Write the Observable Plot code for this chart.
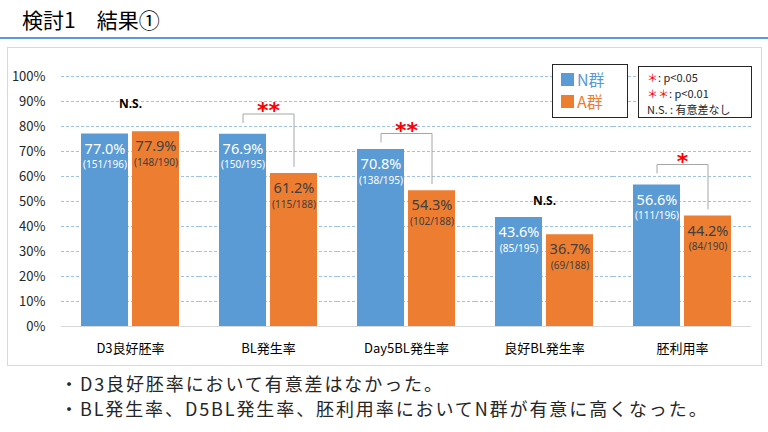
<!DOCTYPE html>
<html>
<head>
<meta charset="utf-8">
<script src="https://cdn.jsdelivr.net/npm/d3@7"></script>
<script src="https://cdn.jsdelivr.net/npm/@observablehq/plot@0.6"></script>
<style>
  html, body { margin: 0; padding: 0; background: #fff; }
  #page { position: relative; width: 768px; height: 432px; overflow: hidden; font-family: "Noto Sans CJK JP", "Noto Sans", sans-serif; color: #000; }
  #title { position: absolute; left: 22px; top: 6px; font-size: 21px; line-height: 26px; }
  #rule { position: absolute; left: 0; top: 37px; width: 768px; height: 2px; background: #5B9BD5; }
  #frame { position: absolute; left: 7px; top: 47px; width: 753px; height: 317px; border: 1px solid #D9D9D9; }
  #chart { position: absolute; left: 0; top: 40px; }
  .box { position: absolute; border: 1px solid #262626; background: #fff; box-sizing: border-box; }
  #leg1 { left: 552px; top: 64px; width: 76px; height: 54px; }
  #leg2 { left: 638px; top: 66px; width: 114px; height: 52px; }
  .item { position: absolute; left: 8px; font-size: 16px; line-height: 20px; display: flex; align-items: center; }
  .sw { display: inline-block; width: 13px; height: 13px; margin-right: 3px; }
  .sig { position: absolute; left: 8px; font-size: 11px; line-height: 16px; height: 16px; color: #262626; white-space: nowrap; }
  .red { color: #FF0000; }
  #notes { position: absolute; left: 60px; top: 371px; font-size: 18px; line-height: 25px; letter-spacing: 1.9px; color: #262626; white-space: nowrap; }
</style>
</head>
<body>
<div id="page">
  <div id="title">検討1　結果①</div>
  <div id="rule"></div>
  <div id="frame"></div>
  <div id="chart"></div>
  <div id="leg1" class="box"></div>
  <div id="leg2" class="box"></div>
  <div id="notes"></div>
</div>
<script>
// ---- data ----
const categories = ["D3良好胚率", "BL発生率", "Day5BL発生率", "良好BL発生率", "胚利用率"];
const groups = ["N", "A"];
const groupNames = ["N群", "A群"];
const nValues = [77.0, 76.9, 70.8, 43.6, 56.6];
const aValues = [77.9, 61.2, 54.3, 36.7, 44.2];
const nFractions = ["151/196", "150/195", "138/195", "85/195", "111/196"];
const aFractions = ["148/190", "115/188", "102/188", "69/188", "84/190"];
const significance = ["N.S.", "**", "**", "N.S.", "*"];
const sigLevel = [89, 85, 77.2, 50, 64.8];   // value (%) at which the annotation sits
const yTicks = [0, 10, 20, 30, 40, 50, 60, 70, 80, 90, 100];
const legendNotes = [["＊", ": p<0.05"], ["＊＊", ": p<0.01"], ["", "N.S. : 有意差なし"]];
const notes = ["・D3良好胚率において有意差はなかった。", "・BL発生率、D5BL発生率、胚利用率においてN群が有意に高くなった。"];

const blue = "#5B9BD5", orange = "#ED7D31";

const rows = [];
categories.forEach((c, i) => {
  rows.push({cat: c, group: "N", value: nValues[i], frac: nFractions[i]});
  rows.push({cat: c, group: "A", value: aValues[i], frac: aFractions[i]});
});

const brackets = [];
const stars = [];
const ns = [];
categories.forEach((c, i) => {
  const s = significance[i];
  if (s === "N.S.") {
    ns.push({cat: c, y: sigLevel[i], text: s});
  } else {
    const top = sigLevel[i];
    brackets.push({cat: c, x: "N", y: top - 3.4});
    brackets.push({cat: c, x: "N", y: top});
    brackets.push({cat: c, x: "A", y: top});
    brackets.push({cat: c, x: "A", y: aValues[i] + 2.8});
    stars.push({cat: c, y: top, text: s});
  }
});

const labelFont = "'Noto Sans', sans-serif";

const chart = Plot.plot({
  width: 768,
  height: 330,
  marginTop: 36,
  marginBottom: 44,
  marginLeft: 61,
  marginRight: 17,
  style: {background: "transparent", overflow: "visible", fontFamily: "'Noto Sans CJK JP', 'Noto Sans', sans-serif"},
  fx: {domain: categories, padding: 0, label: null},
  x: {domain: groups, paddingInner: 0.08, paddingOuter: 0.38, axis: null},
  y: {domain: [0, 100], axis: null},
  color: {domain: groups, range: [blue, orange]},
  marks: [
    Plot.gridY(yTicks.filter(d => d > 0), {stroke: "#9DC3E6", strokeOpacity: 1, strokeDasharray: "3,2"}),
    Plot.ruleY([0], {stroke: "#D9D9D9", strokeWidth: 1}),
    Plot.axisY(yTicks, {tickFormat: d => d + "%", tickSize: 0, tickPadding: 16, fontSize: 13, fill: "#262626", label: null}),
    Plot.axisFx({anchor: "bottom", tickSize: 0, tickPadding: 17, fontSize: 13, fill: "#000", label: null}),
    Plot.barY(rows, {fx: "cat", x: "group", y: "value", fill: "group"}),
    Plot.text(rows.filter(d => d.group === "N"), {fx: "cat", x: "group", y: "value", text: d => d.value.toFixed(1) + "%", dy: 15, fill: "#fff", fontSize: 14.5, fontFamily: labelFont}),
    Plot.text(rows.filter(d => d.group === "N"), {fx: "cat", x: "group", y: "value", text: d => "(" + d.frac + ")", dy: 31, fill: "#fff", fontSize: 10, fontFamily: labelFont}),
    Plot.text(rows.filter(d => d.group === "A"), {fx: "cat", x: "group", y: "value", text: d => d.value.toFixed(1) + "%", dy: 15, fill: "#404040", fontSize: 14.5, fontFamily: labelFont}),
    Plot.text(rows.filter(d => d.group === "A"), {fx: "cat", x: "group", y: "value", text: d => "(" + d.frac + ")", dy: 31, fill: "#404040", fontSize: 10, fontFamily: labelFont}),
    Plot.line(brackets, {fx: "cat", x: "x", y: "y", z: "cat", stroke: "#A6A6A6", strokeWidth: 1}),
    Plot.text(stars, {fx: "cat", y: "y", text: "text", fill: "#FF0000", fontSize: 22, fontWeight: "bold", fontFamily: "'DejaVu Sans', sans-serif", dy: -3}),
    Plot.text(ns, {fx: "cat", y: "y", text: "text", fill: "#000", fontSize: 12, fontWeight: "bold", fontFamily: labelFont})
  ]
});
document.getElementById("chart").appendChild(chart);

// legend 1
const leg1 = document.getElementById("leg1");
groupNames.forEach((g, i) => {
  const el = document.createElement("div");
  el.className = "item";
  el.style.top = (4 + i * 22) + "px";
  el.style.color = i === 0 ? blue : orange;
  el.innerHTML = `<span class="sw" style="background:${i === 0 ? blue : orange}"></span>${g}`;
  leg1.appendChild(el);
});
// legend 2
const leg2 = document.getElementById("leg2");
legendNotes.forEach((n, i) => {
  const el = document.createElement("div");
  el.className = "sig";
  el.style.top = (2 + i * 16) + "px";
  el.innerHTML = `<span class="red">${n[0]}</span>${n[1]}`;
  leg2.appendChild(el);
});
// notes
const notesEl = document.getElementById("notes");
notes.forEach(t => {
  const el = document.createElement("div");
  el.textContent = t;
  notesEl.appendChild(el);
});
</script>
</body>
</html>
